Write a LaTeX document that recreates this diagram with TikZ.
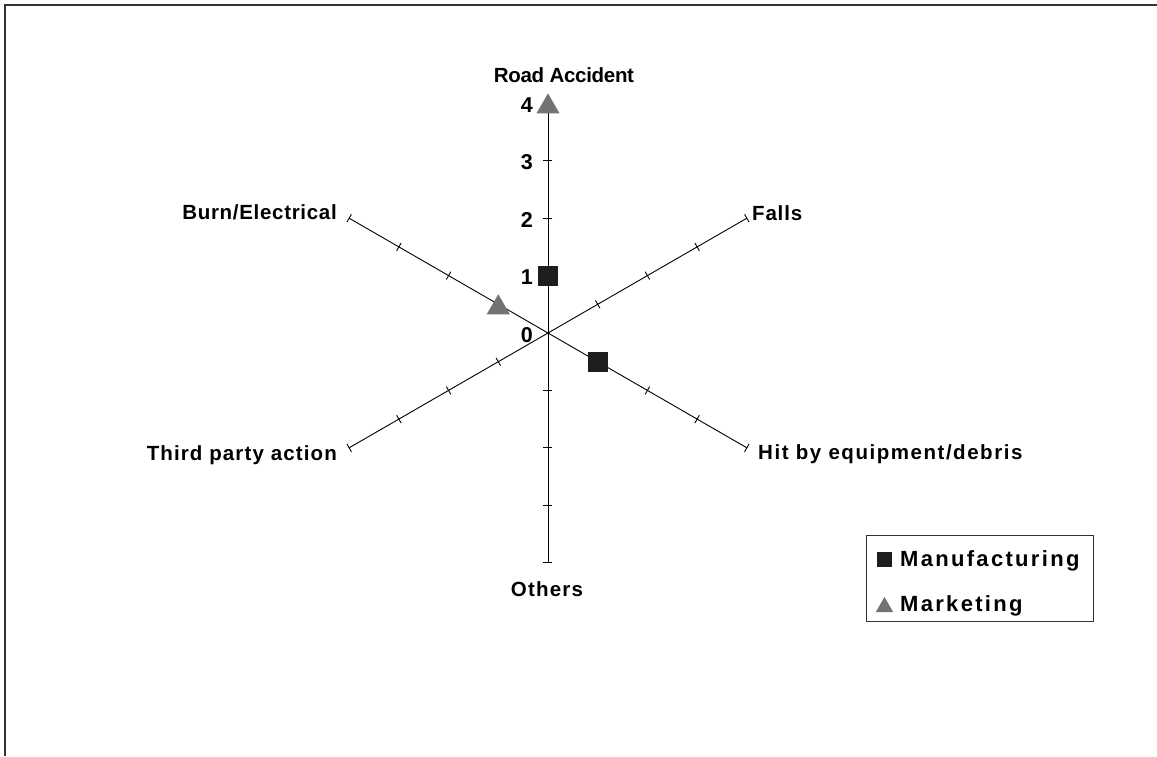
\documentclass[tikz,border=0pt]{standalone}
\usepackage{fontspec}
\setmainfont{Liberation Sans}
\usetikzlibrary{positioning,shapes.geometric}

\definecolor{mfgcol}{HTML}{1E1E1E}
\definecolor{mktcol}{HTML}{737373}
\definecolor{framecol}{HTML}{333333}

\tikzset{
  axislabel/.style={font=\fontsize{20.5}{24}\selectfont\bfseries\addfontfeature{LetterSpace=#1},
    inner sep=0pt, text height=14.5pt, text depth=0pt},
  axislabel/.default=3,
  numlabel/.style={font=\fontsize{21.5}{24}\selectfont\bfseries, inner sep=0pt,
    text height=15.3pt, text depth=0pt, anchor=east},
  legendlabel/.style={font=\fontsize{22}{26}\selectfont\bfseries\addfontfeature{LetterSpace=10.5},
    inner sep=0pt, text height=15.6pt, text depth=0pt, anchor=west},
  mfgmark/.style={fill=mfgcol, minimum size=#1, inner sep=0pt},
  mktmark/.style={regular polygon, regular polygon sides=3, fill=mktcol,
    inner sep=0pt, minimum size=#1},
}

\begin{document}
\begin{tikzpicture}[x=1pt,y=1pt]
\def\u{57.4}
\useasboundingbox (-548,333) rectangle (609,-423);

% frame (only top and left edges fall inside the page)
\draw[framecol, line width=1.5pt] (-543,-423) -- (-543,328) -- (609,328);

\coordinate (O) at (0,0);

% axes and ticks
\foreach \ang/\name in {90/road, 30/falls, -30/hit, -90/others, 210/third, 150/burn} {
  \coordinate (\name) at (\ang:4*\u);
  \draw[line width=0.9pt] (O) -- (\name);
  \foreach \k in {1,...,4}
    \draw[line width=0.9pt, shift={(\ang:\k*\u)}, rotate=\ang] (0,-4.5) -- (0,4.5);
}

% scale numbers
\foreach \k in {0,...,4}
  \node[numlabel] (n\k) at (-15,\k*\u-1.5) {\k};

% axis labels
\node[axislabel=-1.5] (lroad) at (16,258) {Road Accident};
\node[axislabel=4, anchor=west] (lfalls) at (204,120) {Falls};
\node[axislabel=7.5, anchor=west] (lhit) at (210,-119) {Hit by equipment/debris};
\node[axislabel=6] (lothers) at (-1,-256) {Others};
\node[axislabel=5.5, anchor=east] (lthird) at (-211,-120) {Third party action};
\node[axislabel=3.4, anchor=east] (lburn) at (-211,121) {Burn/Electrical};

% data points
\node[mfgmark=20pt] (mfgroad) at (90:1*\u) {};
\node[mfgmark=20pt] (mfghit) at (-30:1*\u) {};
\node[mktmark=26.7pt, yshift=-3.3pt] (mktroad) at (90:4*\u) {};
\node[mktmark=26.7pt, yshift=-3.3pt] (mktburn) at (150:1*\u) {};

% legend
\node[draw=framecol, line width=1pt, minimum width=227pt, minimum height=86pt,
  inner sep=0pt] (legend) at (431.5,-245) {};
\node[mfgmark=15pt] (lgmfg) at (336.5,-226) {};
\node[mktmark=20pt, yshift=-2.5pt] (lgmkt) at (336.5,-271.5) {};
\node[legendlabel] (tmfg) at (352,-226) {Manufacturing};
\node[legendlabel] (tmkt) at (352,-271) {Marketing};
\end{tikzpicture}
\end{document}
